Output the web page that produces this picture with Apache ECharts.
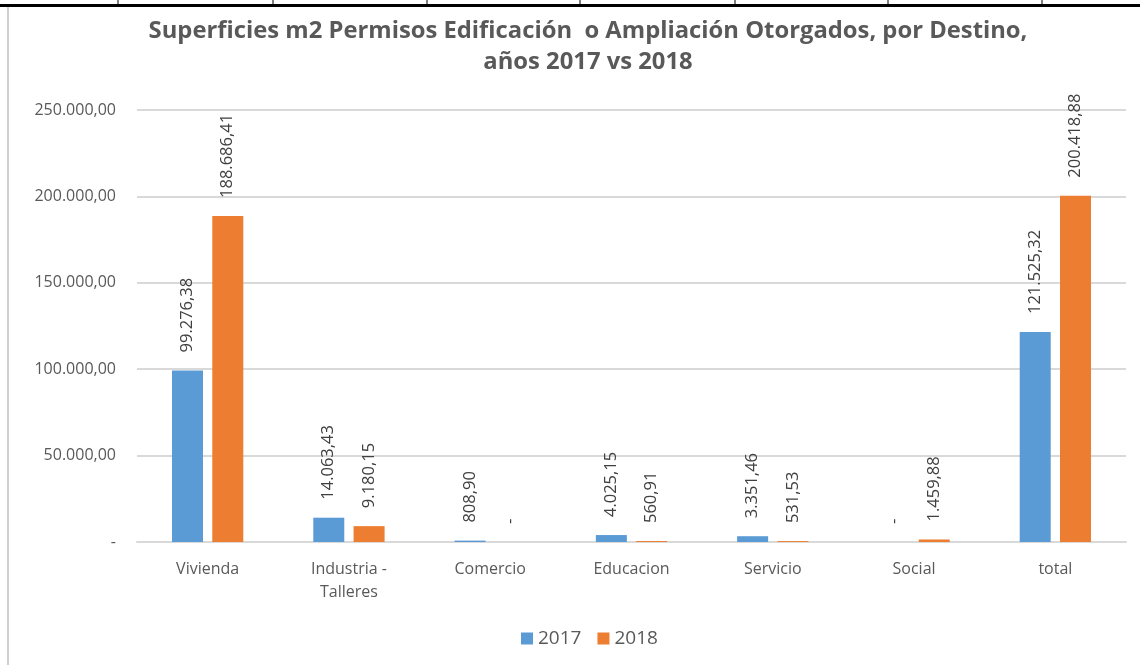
<!DOCTYPE html>
<html>
<head>
<meta charset="utf-8">
<script src="https://cdn.jsdelivr.net/npm/echarts@6/dist/echarts.min.js"></script>
<style>
  html, body { margin: 0; padding: 0; background: #fff; }
  #main { width: 1140px; height: 665px; }
</style>
</head>
<body>
<div id="main"></div>
<script>
// datos
var categorias = ['Vivienda', 'Industria -\nTalleres', 'Comercio', 'Educacion', 'Servicio', 'Social', 'total']
var valores2017 = [99276.38, 14063.43, 808.90, 4025.15, 3351.46, 0, 121525.32]
var valores2018 = [188686.41, 9180.15, 0, 560.91, 531.53, 1459.88, 200418.88]
var series = ['2017', '2018']
var ejeY = [0, 50000, 100000, 150000, 200000, 250000]

// formato con punto de miles y coma decimal, cero como "-"
function formato(v) {
  if (v === 0) return '-'
  var partes = v.toFixed(2).split('.')
  partes[0] = partes[0].replace(/\B(?=(\d{3})+(?!\d))/g, '.')
  return partes[0] + ',' + partes[1]
}

var fuente = '"Open Sans", sans-serif'
var myChart = echarts.init(document.getElementById('main'))

var etiqueta = {
  show: true,
  position: 'top',
  distance: 18,
  rotate: 90,
  align: 'left',
  verticalAlign: 'middle',
  color: '#404040',
  fontSize: 16.5,
  fontFamily: fuente,
  formatter: function (p) { return formato(p.value) }
}

// bordes de la tabla de excel arriba
var lineasTabla = [118, 273, 427, 580, 735, 888, 1042].map(function (x) {
  return { type: 'line', shape: { x1: x, y1: 0, x2: x, y2: 5 }, style: { stroke: '#000', lineWidth: 1 } }
})

var option = {
  backgroundColor: '#fff',
  animation: false,
  title: {
    text: 'Superficies m2 Permisos Edificación  o Ampliación Otorgados, por Destino,\naños 2017 vs 2018',
    left: 583,
    textAlign: 'center',
    top: 11,
    textStyle: {
      color: '#595959',
      fontSize: 23.8,
      fontWeight: 'bold',
      fontFamily: fuente,
      lineHeight: 31
    }
  },
  legend: {
    data: series,
    left: 516,
    top: 624,
    itemWidth: 12,
    itemHeight: 12,
    itemGap: 16,
    icon: 'rect',
    textStyle: { color: '#595959', fontSize: 19, fontFamily: fuente }
  },
  grid: { left: 137, right: 14, top: 110, bottom: 123 },
  xAxis: {
    type: 'category',
    data: categorias,
    axisLine: { lineStyle: { color: '#d9d9d9', width: 2 } },
    axisTick: { show: false },
    axisLabel: { color: '#595959', fontSize: 16, fontFamily: fuente, margin: 16, lineHeight: 23 }
  },
  yAxis: {
    type: 'value',
    min: ejeY[0],
    max: ejeY[ejeY.length - 1],
    interval: ejeY[1] - ejeY[0],
    axisLine: { show: false },
    axisTick: { show: false },
    splitLine: { lineStyle: { color: '#d9d9d9', width: 2 } },
    axisLabel: {
      color: '#595959',
      fontSize: 16,
      fontFamily: fuente,
      margin: 21,
      formatter: function (v) { return formato(v) }
    }
  },
  series: [
    {
      name: series[0],
      type: 'bar',
      data: valores2017,
      barWidth: 31,
      barGap: '30%',
      itemStyle: { color: '#5b9bd5' },
      label: etiqueta
    },
    {
      name: series[1],
      type: 'bar',
      data: valores2018,
      barWidth: 31,
      itemStyle: { color: '#ed7d31' },
      label: etiqueta
    }
  ],
  graphic: [
    { type: 'rect', shape: { x: 0, y: 4, width: 1140, height: 3 }, style: { fill: '#000' } },
    { type: 'line', shape: { x1: 8, y1: 7, x2: 8, y2: 665 }, style: { stroke: '#d0d0d0', lineWidth: 2 } }
  ].concat(lineasTabla)
}

myChart.setOption(option)
</script>
</body>
</html>
